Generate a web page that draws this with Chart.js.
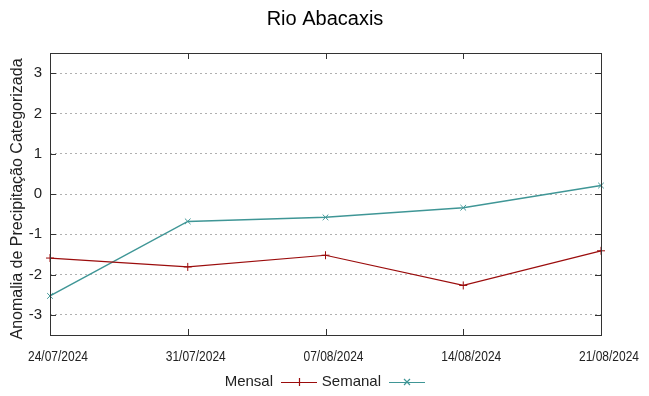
<!DOCTYPE html>
<html>
<head>
<meta charset="utf-8">
<script src="https://cdn.jsdelivr.net/npm/chart.js@4/dist/chart.umd.min.js"></script>
<style>
	html, body { margin: 0; padding: 0; background: #fff; }
	#wrap { width: 649px; height: 396px; }
</style>
</head>
<body>
<div id="wrap"><canvas id="grafico"></canvas></div>
<script>
// Dados
const datas = ["24/07/2024", "31/07/2024", "07/08/2024", "14/08/2024", "21/08/2024"]
const mensal = [-1.59, -1.81, -1.52, -2.27, -1.41]
const semanal = [-2.53, -0.68, -0.58, -0.34, 0.21]
const yTicks = [-3, -2, -1, 0, 1, 2, 3]

const corMensal = '#9b0c0c'
const corSemanal = '#3f9696'
const fonte = '"Liberation Sans", Arial, sans-serif'

// moldura, marcas internas, rótulos x, título e legenda no estilo gnuplot
const molduraPlugin = {
	id: 'moldura',
	afterDraw(chart) {
		const ctx = chart.ctx
		const a = chart.chartArea
		const xs = chart.scales.x
		const ys = chart.scales.y
		ctx.save()
		ctx.strokeStyle = '#333'
		ctx.lineWidth = 1
		ctx.strokeRect(a.left + 0.5, a.top + 0.5, a.right - a.left, a.bottom - a.top)
		ctx.beginPath()
		datas.forEach((d, i) => {
			const x = Math.round(xs.getPixelForValue(i)) + 0.5
			ctx.moveTo(x, a.bottom); ctx.lineTo(x, a.bottom - 6)
			ctx.moveTo(x, a.top); ctx.lineTo(x, a.top + 6)
		})
		yTicks.forEach(v => {
			const y = Math.round(ys.getPixelForValue(v)) + 0.5
			ctx.moveTo(a.left, y); ctx.lineTo(a.left + 6, y)
			ctx.moveTo(a.right, y); ctx.lineTo(a.right - 6, y)
		})
		ctx.stroke()

		// rótulos do eixo x (fonte estreita, um pouco à direita da marca)
		ctx.fillStyle = '#222'
		ctx.font = '15px ' + fonte
		ctx.textAlign = 'center'
		ctx.textBaseline = 'middle'
		datas.forEach((d, i) => {
			const x = xs.getPixelForValue(i) + 8
			ctx.save()
			ctx.translate(x, 357)
			ctx.scale(0.8, 1)
			ctx.fillText(d, 0, 0)
			ctx.restore()
		})

		// título
		ctx.fillStyle = '#000'
		ctx.font = '20px ' + fonte
		ctx.fillText('Rio Abacaxis', 325, 19)

		// título do eixo y
		ctx.save()
		ctx.translate(18, 199)
		ctx.rotate(-Math.PI / 2)
		ctx.font = '16px ' + fonte
		ctx.fillStyle = '#222'
		ctx.fillText('Anomalia de Precipitação Categorizada', 0, 0)
		ctx.restore()

		// legenda
		const itens = [
			{ txt: 'Mensal', cor: corMensal, estilo: '+', xTxt: 273, x0: 281 },
			{ txt: 'Semanal', cor: corSemanal, estilo: 'x', xTxt: 381, x0: 389 }
		]
		ctx.font = '15px ' + fonte
		ctx.textAlign = 'right'
		const yl = 382
		itens.forEach(it => {
			ctx.fillStyle = '#222'
			ctx.fillText(it.txt, it.xTxt, yl)
			ctx.strokeStyle = it.cor
			ctx.lineWidth = 1.2
			ctx.beginPath()
			ctx.moveTo(it.x0, yl + 0.5); ctx.lineTo(it.x0 + 36, yl + 0.5)
			const cx = it.x0 + 18
			if (it.estilo === '+') {
				ctx.moveTo(cx - 4, yl + 0.5); ctx.lineTo(cx + 4, yl + 0.5)
				ctx.moveTo(cx + 0.5, yl - 4); ctx.lineTo(cx + 0.5, yl + 4)
			} else {
				ctx.moveTo(cx - 3, yl - 3); ctx.lineTo(cx + 3, yl + 3)
				ctx.moveTo(cx - 3, yl + 3); ctx.lineTo(cx + 3, yl - 3)
			}
			ctx.stroke()
		})
		ctx.restore()
	}
}

const ctx = document.getElementById('grafico').getContext('2d')
const grafico = new Chart(ctx, {
	type: 'line',
	data: {
		labels: datas,
		datasets: [{
			label: 'Mensal',
			data: mensal,
			borderColor: corMensal,
			backgroundColor: corMensal,
			borderWidth: 1.2,
			pointStyle: 'cross',
			pointRadius: 4,
			pointBorderWidth: 1,
			tension: 0
		}, {
			label: 'Semanal',
			data: semanal,
			borderColor: corSemanal,
			backgroundColor: corSemanal,
			borderWidth: 1.5,
			pointStyle: 'crossRot',
			pointRadius: 4,
			pointBorderWidth: 1,
			tension: 0
		}]
	},
	options: {
		responsive: true,
		maintainAspectRatio: false,
		animation: false,
		layout: { padding: { top: 53, right: 48, left: 0, bottom: 0 } },
		plugins: {
			legend: { display: false },
			title: { display: false },
			tooltip: { enabled: false }
		},
		scales: {
			x: {
				type: 'category',
				offset: false,
				grid: { display: false, drawTicks: false },
				border: { display: false },
				ticks: { display: false, autoSkip: false },
				afterFit: s => { s.height = 61 }
			},
			y: {
				min: -3.5,
				max: 3.5,
				afterBuildTicks: s => { s.ticks = yTicks.map(v => ({ value: v })) },
				grid: { color: '#b0b0b0', lineWidth: 1, drawTicks: false },
				border: { display: false, dash: [2, 3] },
				ticks: {
					color: '#222',
					font: { family: fonte, size: 15 },
					padding: 8
				},
				afterFit: s => { s.width = 50 }
			}
		}
	},
	plugins: [molduraPlugin]
})
</script>
</body>
</html>
